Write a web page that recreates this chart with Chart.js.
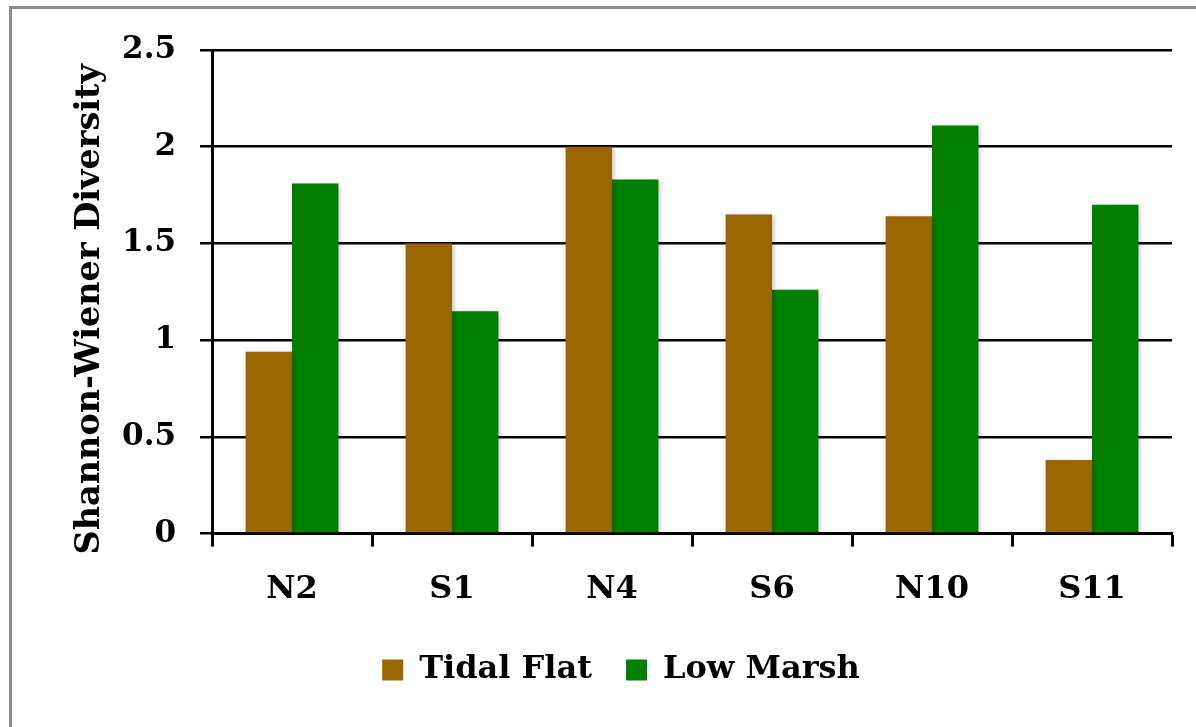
<!DOCTYPE html>
<html>
<head>
<meta charset="utf-8">
<script src="https://cdn.jsdelivr.net/npm/chart.js@4"></script>
<style>
  html, body { margin: 0; padding: 0; background: #fff; }
  #wrap { position: relative; width: 1196px; height: 727px; overflow: hidden; }
  #frame { position: absolute; left: 9px; top: 6px; width: 1200px; height: 740px;
           border-top: 3px solid #8c8c8c; border-left: 3px solid #8c8c8c; box-sizing: border-box; }
  canvas { position: absolute; left: 0; top: 0; }
</style>
</head>
<body>
<div id="wrap">
  <div id="frame"></div>
  <canvas id="c" width="1196" height="727"></canvas>
</div>
<script>
// Sampling sites and Shannon-Wiener diversity per habitat
const sites = ['N2', 'S1', 'N4', 'S6', 'N10', 'S11'];
const tidalFlat = [0.94, 1.50, 2.00, 1.65, 1.64, 0.38];
const lowMarsh  = [1.81, 1.15, 1.83, 1.26, 2.11, 1.70];
const yTicks = [0, 0.5, 1, 1.5, 2, 2.5];

const FONT = '"DejaVu Serif", "Liberation Serif", serif';

// soft drop shadow under the bars
const barShadow = {
  id: 'barShadow',
  beforeDatasetsDraw(chart) {
    const ctx = chart.ctx;
    ctx.save();
    ctx.shadowColor = 'rgba(0,0,0,0.28)';
    ctx.shadowBlur = 5;
    ctx.shadowOffsetX = 2;
    ctx.shadowOffsetY = 1;
  },
  afterDatasetsDraw(chart) {
    chart.ctx.restore();
  }
};

new Chart(document.getElementById('c'), {
  type: 'bar',
  data: {
    labels: sites,
    datasets: [
      { label: 'Tidal Flat', data: tidalFlat, backgroundColor: '#996600', borderWidth: 0 },
      { label: 'Low Marsh',  data: lowMarsh,  backgroundColor: '#008000', borderWidth: 0 }
    ]
  },
  options: {
    responsive: false,
    animation: false,
    devicePixelRatio: 1,
    datasets: { bar: { categoryPercentage: 0.58, barPercentage: 1.0 } },
    layout: { padding: { left: 70, right: 24, top: 50, bottom: 31 } },
    plugins: {
      tooltip: { enabled: false },
      legend: {
        position: 'bottom',
        labels: {
          boxWidth: 21, boxHeight: 21, padding: 34,
          color: '#000',
          font: { family: FONT, size: 32, weight: 'bold' }
        }
      }
    },
    scales: {
      x: {
        afterFit(scale) { scale.height -= 13; },
        grid: { drawOnChartArea: false, drawTicks: true, tickLength: 13, tickWidth: 3, tickColor: '#000', offset: true },
        border: { color: '#000', width: 3 },
        ticks: { color: '#000', padding: 24, font: { family: FONT, size: 32, weight: 'bold' } }
      },
      y: {
        min: 0, max: 2.5,
        afterBuildTicks(scale) { scale.ticks = yTicks.map(v => ({ value: v })); },
        afterFit(scale) { scale.width = 142; },
        grid: { color: '#000', lineWidth: 2.5, tickLength: 12, tickWidth: 2.5 },
        border: { color: '#000', width: 3 },
        ticks: {
          color: '#000', padding: 24,
          font: { family: FONT, size: 31, weight: 'bold' },
          callback: v => String(v)
        },
        title: {
          display: true, text: 'Shannon-Wiener Diversity   ', color: '#000', padding: { top: 0, bottom: 4 },
          font: { family: FONT, size: 33.5, weight: 'bold' }
        }
      }
    }
  },
  plugins: [barShadow]
});
</script>
</body>
</html>
